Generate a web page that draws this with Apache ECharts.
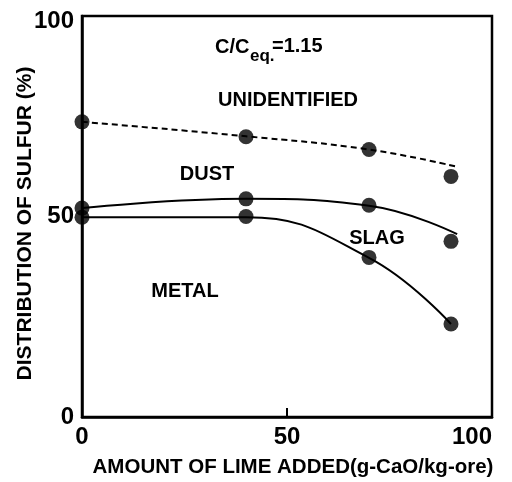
<!DOCTYPE html>
<html>
<head>
<meta charset="utf-8">
<script src="https://cdn.jsdelivr.net/npm/echarts@6/dist/echarts.min.js"></script>
<style>
  html, body { margin: 0; padding: 0; background: #fff; }
  #chart { width: 512px; height: 482px; }
</style>
</head>
<body>
<div id="chart"></div>
<script>
// Lime addition (g-CaO/kg-ore) at which sulfur distribution was measured
const limeAdded = [0, 40, 70, 90];

// Measured cumulative boundaries (%) between the sulfur sinks
const metalTop = [49.8, 50.0, 39.8, 23.2];       // metal / slag boundary
const slagTop = [52.1, 54.4, 52.8, 43.8];        // slag / dust boundary
const dustTop = [73.6, 69.9, 66.7, 60.0];        // dust / unidentified boundary

// Fitted curves drawn through the measurements: [lime, %]
const metalCurve = [[0, 49.8], [40, 49.8], [70, 39.7], [90, 23.2]];
const slagCurve = [[0, 52.1], [40, 54.4], [70, 52.7], [91.5, 45.6]];
const dustCurve = [[0, 73.6], [40, 70.0], [70, 66.7], [91.5, 62.4]];

// Axis ranges and tick spacing
const xRange = [0, 100];
const yRange = [0, 100];
const tickStep = 50;

const FONT = '"Liberation Sans", Arial, sans-serif';
const INK = '#000';

const chart = echarts.init(document.getElementById('chart'), null, { renderer: 'canvas' });

function pts(ys) {
  return limeAdded.map((x, i) => [x, ys[i]]);
}

function curve(data, dashed) {
  return {
    type: 'line',
    data: data,
    smooth: 0.45,
    symbol: 'none',
    clip: false,
    lineStyle: { color: INK, width: 2, type: dashed ? [6, 4] : 'solid' },
    silent: true,
    z: 2
  };
}

function dots(ys) {
  return {
    type: 'scatter',
    data: pts(ys),
    symbol: 'circle',
    symbolSize: 15,
    clip: false,
    itemStyle: { color: INK },
    silent: true,
    z: 3
  };
}

function note(text, x, y, size, align) {
  return {
    type: 'text', x: x, y: y, z: 10, silent: true,
    style: {
      text: text, fontFamily: FONT, fontWeight: 'bold', fontSize: size, fill: INK,
      textAlign: align || 'center', textVerticalAlign: 'middle'
    }
  };
}

const tickText = { fontFamily: FONT, fontWeight: 'bold', fontSize: 24, color: INK };

chart.setOption({
  animation: false,
  backgroundColor: '#fff',
  grid: {
    left: 82, right: 20, top: 16, bottom: 65,
    containLabel: false, outerBoundsMode: 'none',
    show: true, borderColor: INK, borderWidth: 2.5, backgroundColor: 'transparent'
  },
  xAxis: {
    type: 'value',
    min: xRange[0], max: xRange[1], interval: tickStep,
    name: 'AMOUNT OF LIME ADDED(g-CaO/kg-ore)',
    nameLocation: 'middle', nameGap: 40, nameMoveOverlap: false,
    nameTextStyle: { fontFamily: FONT, fontWeight: 'bold', fontSize: 20.5, color: INK, padding: [0, 0, 0, 12] },
    axisLine: { show: true, lineStyle: { color: INK, width: 2.5 } },
    axisTick: { show: true, inside: true, length: 9, lineStyle: { color: INK, width: 2 } },
    axisLabel: Object.assign({ margin: 8, alignMaxLabel: 'right' }, tickText),
    splitLine: { show: false }
  },
  yAxis: {
    type: 'value',
    min: yRange[0], max: yRange[1], interval: tickStep,
    name: 'DISTRIBUTION OF SULFUR (%)',
    nameLocation: 'middle', nameGap: 46, nameRotate: 90, nameMoveOverlap: false,
    nameTextStyle: { fontFamily: FONT, fontWeight: 'bold', fontSize: 21, color: INK, padding: [0, 14, 0, 0] },
    axisLine: { show: true, lineStyle: { color: INK, width: 2.5 } },
    axisTick: { show: false },
    axisLabel: Object.assign({
      margin: 8,
      formatter: v => (v === yRange[1] ? '{top|' + v + '}' : String(v)),
      rich: { top: Object.assign({ padding: [10, 0, 0, 0] }, tickText) }
    }, tickText),
    splitLine: { show: false }
  },
  graphic: [
    note('C/C', 215, 47, 20, 'left'),
    note('eq.', 250, 56, 17, 'left'),
    note('=1.15', 272, 46, 20, 'left'),
    note('UNIDENTIFIED', 288, 100, 20),
    note('DUST', 207, 174, 20),
    note('SLAG', 377, 238, 20),
    note('METAL', 185, 291, 20)
  ],
  series: [
    curve(dustCurve, true),
    curve(slagCurve, false),
    curve(metalCurve, false),
    dots(dustTop),
    dots(slagTop),
    dots(metalTop)
  ]
});
</script>
</body>
</html>
